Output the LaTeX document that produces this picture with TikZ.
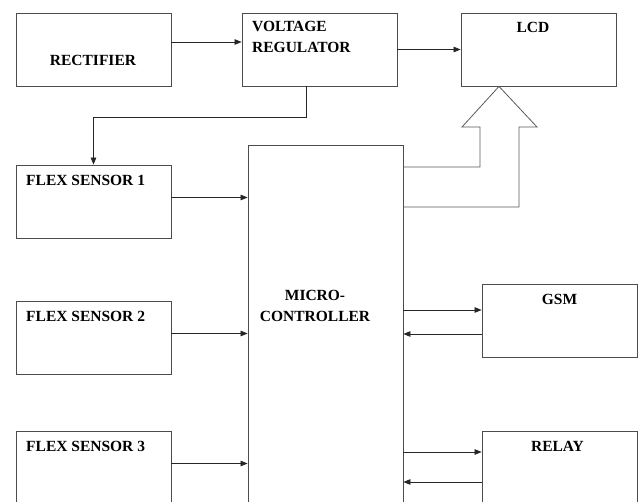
\documentclass[tikz,border=0pt]{standalone}
\usepackage{fontspec}
\setmainfont{Liberation Serif}
\usetikzlibrary{arrows.meta, positioning}

\begin{document}
\begin{tikzpicture}[
    x=1pt, y=-1pt,
    box/.style={draw=black!70, line width=0.8pt, minimum width=155pt,
                minimum height=73pt, inner sep=0pt},
    lbl/.style={font=\fontsize{15.5}{21}\selectfont\bfseries, inner sep=0pt},
    arr/.style={-{Triangle[length=7pt,width=5.5pt]}, line width=0.7pt, black!85},
    hollow/.style={draw=black!65, line width=0.8pt, line join=miter}
  ]
  \useasboundingbox (0,0) rectangle (640,502);
  \clip (0,0) rectangle (640,502);
  % power and display
  \node[box] (rect) at (93.5, 49.5) {};
  \node[lbl, anchor=base] (rectlbl) at (93, 66) {RECTIFIER};
  \node[box] (vreg) at (319.5, 49.5) {};
  \node[lbl, anchor=base west, align=left] (vreglbl) at (252, 53) {VOLTAGE\\REGULATOR};
  \node[box] (lcd) at (538.5, 49.5) {};
  \node[lbl, anchor=base] (lcdlbl) at (533, 33) {LCD};
  % microcontroller
  \node[box, minimum height=400pt] (mc) at (325.5, 345) {};
  \node[lbl, anchor=base, align=center] (mclbl) at (315, 322) {MICRO-\\CONTROLLER};
  % flex sensors
  \foreach \i/\y in {1/201.5, 2/337.5, 3/467.5} {
    \node[box] (fs\i) at (93.5, \y) {};
    \node[lbl, anchor=base west] (fs\i lbl) at (26, \y-15.5) {FLEX SENSOR \i};
    \draw[arr] ([yshift=4pt]fs\i.east) -- ([yshift=4pt]fs\i.east -| mc.west);
  }
  % outputs
  \node[box] (gsm) at (559.5, 320.5) {};
  \node[lbl, anchor=base] (gsmlbl) at (559.5, 305) {GSM};
  \node[box] (relay) at (559.5, 467.5) {};
  \node[lbl, anchor=base] (relaylbl) at (557.5, 452) {RELAY};
  % links
  \draw[arr] (rect.east |- 0,42) -- (vreg.west |- 0,42);
  \draw[arr] (vreg.east) -- (lcd.west);
  \draw[arr] (vreg.south -| 306,0) |- (fs1.north |- 0,117) -- (fs1.north);
  \draw[arr] (mc.east |- 0,310) -- (gsm.west |- 0,310);
  \draw[arr] (gsm.west |- 0,334) -- (mc.east |- 0,334);
  \draw[arr] (mc.east |- 0,452) -- (relay.west |- 0,452);
  \draw[arr] (relay.west |- 0,482) -- (mc.east |- 0,482);
  % data bus to lcd
  \draw[hollow] (mc.east |- 0,167) -- (480,167) -- (480,127) -- (462,127)
    -- (lcd.south -| 499,0) -- (537,127) -- (519,127) -- (519,207)
    -- (mc.east |- 0,207);
\end{tikzpicture}
\end{document}
